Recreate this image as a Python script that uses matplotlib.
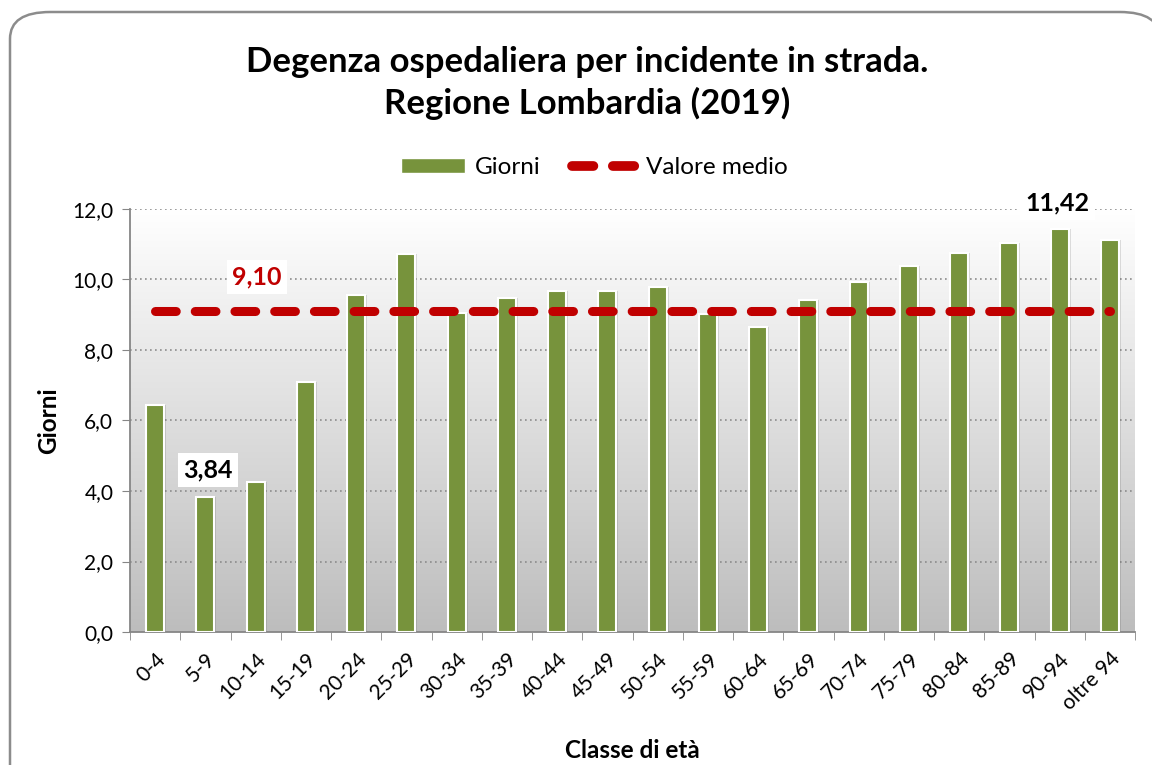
import numpy as np
import matplotlib
matplotlib.use("Agg")
import matplotlib.pyplot as plt
from matplotlib.patches import FancyBboxPatch, Patch
from matplotlib.lines import Line2D
from matplotlib.ticker import FuncFormatter

# Data
classi = ["0-4", "5-9", "10-14", "15-19", "20-24", "25-29", "30-34", "35-39",
          "40-44", "45-49", "50-54", "55-59", "60-64", "65-69", "70-74",
          "75-79", "80-84", "85-89", "90-94", "oltre 94"]
giorni = [6.44, 3.84, 4.26, 7.09, 9.56, 10.72, 9.05, 9.48, 9.67, 9.67,
          9.79, 9.02, 8.65, 9.42, 9.93, 10.39, 10.76, 11.03, 11.42, 11.12]
valore_medio = 9.10

plt.rcParams['font.family'] = ['Lato', 'DejaVu Sans']

fig = plt.figure(figsize=(11.52, 7.65), dpi=100)

# Rounded chart border (right and bottom edges run off the picture)
border = FancyBboxPatch((10 / 1152, -0.1), 1150 / 1152, 1.1 - 12 / 765,
                        boxstyle="round,pad=0,rounding_size=0.035",
                        transform=fig.transFigure, facecolor="white",
                        edgecolor="#8c8c8c", linewidth=1.8, zorder=-5)
fig.patches.append(border)

ax = fig.add_axes([130 / 1152, 1 - 632 / 765, 1005 / 1152, 423 / 765])
ax.set_facecolor("none")

# Gradient background white -> gray
grad = np.linspace(0, 1, 256).reshape(-1, 1)
ax.imshow(grad, extent=[0, 1, 0, 1], transform=ax.transAxes, aspect="auto",
          cmap=matplotlib.colors.LinearSegmentedColormap.from_list("g", ["#bdbdbd", "#ffffff"]),
          origin="lower", zorder=0)

x = np.arange(len(classi))

# Gridlines
for v in [2, 4, 6, 8, 10, 12]:
    ax.axhline(v, color="#8c8c8c", linestyle=(0, (1, 2)), linewidth=1.2, zorder=1)

# Bar shadows + bars
ax.bar(x + 0.04, giorni, width=0.36, color="#000000", alpha=0.12, zorder=2)
ax.bar(x, giorni, width=0.36, color="#77933C", edgecolor="white", linewidth=1.5, zorder=3)

# Mean line
ax.plot([x[0], x[-1]], [valore_medio, valore_medio], color="#C00000", linewidth=6.5,
        dashes=(2.3, 2.1), dash_capstyle="round", zorder=4)

ax.set_xlim(-0.5, len(classi) - 0.5)
ax.set_ylim(0, 12)
ax.set_yticks(np.arange(0, 13, 2))
ax.yaxis.set_major_formatter(FuncFormatter(lambda v, p: f"{v:.1f}".replace(".", ",")))
ax.set_xticks(x)
ax.set_xticklabels(classi, rotation=45, ha="right", rotation_mode="anchor", fontsize=15)
ax.set_xticks(np.arange(-0.5, len(classi)), minor=True)
ax.tick_params(axis="x", which="major", length=0, pad=12)
ax.tick_params(axis="x", which="minor", length=6, color="#868686")
ax.tick_params(axis="y", length=6, color="#868686", labelsize=15, pad=6)

for s in ["top", "right"]:
    ax.spines[s].set_visible(False)
for s in ["left", "bottom"]:
    ax.spines[s].set_color("#868686")
    ax.spines[s].set_linewidth(1.3)

ax.set_ylabel("Giorni", fontsize=17.5, fontweight="bold", labelpad=9)
ax.set_xlabel("Classe di età", fontsize=17.5, fontweight="bold", labelpad=18)

# Data labels
box = dict(facecolor="white", edgecolor="none", pad=4)
ax.text(2.03, 10.07, "9,10", color="#C00000", fontsize=18, fontweight="bold",
        ha="center", va="center", bbox=box, zorder=5)
ax.text(1.05, 4.6, "3,84", color="black", fontsize=18, fontweight="bold",
        ha="center", va="center", bbox=box, zorder=5)
ax.text(17.95, 12.17, "11,42", color="black", fontsize=18, fontweight="bold",
        ha="center", va="center", bbox=box, zorder=5)

# Title
fig.text(0.51, 0.892, "Degenza ospedaliera per incidente in strada.\nRegione Lombardia (2019)",
         ha="center", va="center", fontsize=25, fontweight="bold", linespacing=1.32)

# Legend
handles = [Patch(facecolor="#77933C", edgecolor="white"),
           Line2D([0], [0], color="#C00000", linewidth=7, dashes=(2.2, 2.0),
                  dash_capstyle="round")]
fig.legend(handles, ["Giorni", "Valore medio"], loc="center", bbox_to_anchor=(0.516, 0.781),
           ncol=2, frameon=False, fontsize=17.5, handlelength=2.65, handleheight=0.6,
           columnspacing=1.3, handletextpad=0.4)

fig.savefig("out.png", dpi=100)
